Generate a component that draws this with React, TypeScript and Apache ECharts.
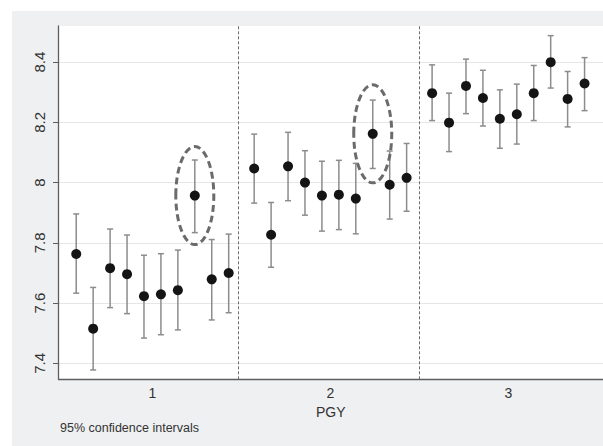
import React, { useEffect, useRef } from "react";
import * as echarts from "echarts";

// PGY categories and tick labels
const PGY_LEVELS = [1, 2, 3];
const Y_TICKS = [7.4, 7.6, 7.8, 8.0, 8.2, 8.4];

// Means and 95% CI per PGY (10 sub-groups each)
const meanPgy1 = [7.763, 7.515, 7.716, 7.696, 7.623, 7.629, 7.643, 7.957, 7.679, 7.7];
const lowPgy1 = [7.633, 7.378, 7.585, 7.565, 7.484, 7.495, 7.511, 7.834, 7.544, 7.568];
const highPgy1 = [7.896, 7.652, 7.846, 7.826, 7.759, 7.764, 7.776, 8.075, 7.811, 7.829];

const meanPgy2 = [8.047, 7.827, 8.054, 8.0, 7.957, 7.96, 7.947, 8.162, 7.993, 8.016];
const lowPgy2 = [7.932, 7.719, 7.94, 7.892, 7.839, 7.844, 7.83, 8.047, 7.879, 7.905];
const highPgy2 = [8.161, 7.934, 8.167, 8.106, 8.071, 8.074, 8.064, 8.274, 8.105, 8.13];

const meanPgy3 = [8.297, 8.199, 8.321, 8.281, 8.212, 8.227, 8.297, 8.4, 8.278, 8.329];
const lowPgy3 = [8.206, 8.103, 8.229, 8.188, 8.114, 8.128, 8.206, 8.314, 8.185, 8.239];
const highPgy3 = [8.391, 8.297, 8.41, 8.373, 8.308, 8.327, 8.389, 8.488, 8.369, 8.415];

// Dashed separators between PGY groups
const SEPARATORS = [1.484, 2.496];
// Highlighted points: [pgy index, sub-group index]
const HIGHLIGHTS = [
  [0, 7],
  [1, 7],
];

const STEP = 0.0952;
const FONT = '"Liberation Sans", Arial, Helvetica, sans-serif';

export default function App() {
  const ref = useRef<HTMLDivElement>(null);

  useEffect(() => {
    if (!ref.current) return;
    const chart = echarts.init(ref.current, undefined, { renderer: "svg" });
    const means = [meanPgy1, meanPgy2, meanPgy3];
    const lows = [lowPgy1, lowPgy2, lowPgy3];
    const highs = [highPgy1, highPgy2, highPgy3];
    const xOf = (g: number, i: number) => PGY_LEVELS[g] + (i - 4.5) * STEP;

    const points: number[][] = [];
    const bars: number[][] = [];
    means.forEach((arr, g) => {
      arr.forEach((m, i) => {
        points.push([xOf(g, i), m]);
        bars.push([xOf(g, i), lows[g][i], highs[g][i]]);
      });
    });

    const barColor = "#8c8c8c";

    chart.setOption({
      animation: false,
      backgroundColor: "transparent",
      grid: {
        left: 58.5,
        top: 26,
        right: 0,
        bottom: 66.7,
        show: true,
        backgroundColor: "#ffffff",
        borderWidth: 0,
      },
      xAxis: {
        type: "value",
        min: 0.472,
        max: 3.532,
        name: "PGY",
        nameLocation: "middle",
        nameGap: 20,
        nameTextStyle: { fontFamily: FONT, fontSize: 14, color: "#333" },
        axisLine: { show: true, onZero: false, lineStyle: { color: "#5e5e5e", width: 1.3 } },
        axisTick: { show: false, customValues: PGY_LEVELS },
        axisLabel: {
          customValues: PGY_LEVELS,
          margin: 7,
          fontFamily: FONT,
          fontSize: 14,
          color: "#333",
          formatter: (v: number) => String(v),
        },
        splitLine: { show: false },
      },
      yAxis: {
        type: "value",
        min: 7.347,
        max: 8.52,
        axisLine: { show: true, onZero: false, lineStyle: { color: "#5e5e5e", width: 1.3 } },
        axisTick: { show: true, length: 5.5, customValues: Y_TICKS, lineStyle: { color: "#5e5e5e" } },
        axisLabel: {
          customValues: Y_TICKS,
          rotate: 90,
          margin: 12,
          fontFamily: FONT,
          fontSize: 15,
          color: "#333",
          formatter: (v: number) => String(Math.round(v * 10) / 10),
        },
        splitLine: { show: false },
      },
      series: [
        {
          type: "line",
          data: [],
          silent: true,
          z: 0,
          markLine: {
            silent: true,
            z: 0,
            symbol: ["none", "none"],
            label: { show: false },
            lineStyle: { type: "solid", color: "#e6e6e6", width: 1 },
            data: Y_TICKS.map((v) => ({ yAxis: v })),
          },
        },
        {
          type: "line",
          data: [],
          silent: true,
          z: 0,
          markLine: {
            silent: true,
            z: 1,
            symbol: ["none", "none"],
            label: { show: false },
            lineStyle: { type: [3, 2], color: "#6e6e6e", width: 1 },
            data: SEPARATORS.map((v) => ({ xAxis: v })),
          },
        },
        {
          type: "custom",
          data: bars,
          encode: { x: 0, y: [1, 2] },
          z: 2,
          renderItem: (params: any, api: any) => {
            const x = api.value(0);
            const pLo = api.coord([x, api.value(1)]);
            const pHi = api.coord([x, api.value(2)]);
            const cap = 3;
            const style = { stroke: barColor, lineWidth: 1.5 };
            return {
              type: "group",
              children: [
                { type: "line", shape: { x1: pLo[0], y1: pLo[1], x2: pHi[0], y2: pHi[1] }, style },
                { type: "line", shape: { x1: pLo[0] - cap, y1: pLo[1], x2: pLo[0] + cap, y2: pLo[1] }, style },
                { type: "line", shape: { x1: pHi[0] - cap, y1: pHi[1], x2: pHi[0] + cap, y2: pHi[1] }, style },
              ],
            };
          },
        },
        {
          type: "scatter",
          data: points,
          symbol: "circle",
          symbolSize: 10,
          itemStyle: { color: "#141414", opacity: 1 },
          z: 3,
        },
      ],
    });

    const ellipses = HIGHLIGHTS.map(([g, i]) => {
      const c = chart.convertToPixel({ gridIndex: 0 }, [xOf(g, i), means[g][i]]) as number[];
      return {
        type: "ellipse",
        shape: { cx: c[0], cy: c[1], rx: 19, ry: 49 },
        style: { fill: "none", stroke: "#6b6b6b", lineWidth: 3, lineDash: [7, 4] },
        z: 10,
        silent: true,
      };
    });

    chart.setOption({
      graphic: [
        ...ellipses,
        {
          type: "text",
          left: 60,
          top: 421,
          silent: true,
          style: { text: "95% confidence intervals", font: `12.5px ${FONT}`, fill: "#333" },
        },
      ],
    });

    return () => chart.dispose();
  }, []);

  return (
    <div style={{ position: "fixed", left: 0, top: 0, width: 603, height: 446, background: "#ffffff" }}>
      <div
        style={{ position: "absolute", left: 12, top: 11, width: 591, height: 435, background: "#eff0f2" }}
      />
      <div ref={ref} style={{ position: "absolute", left: 0, top: 0, width: 603, height: 446 }} />
    </div>
  );
}
